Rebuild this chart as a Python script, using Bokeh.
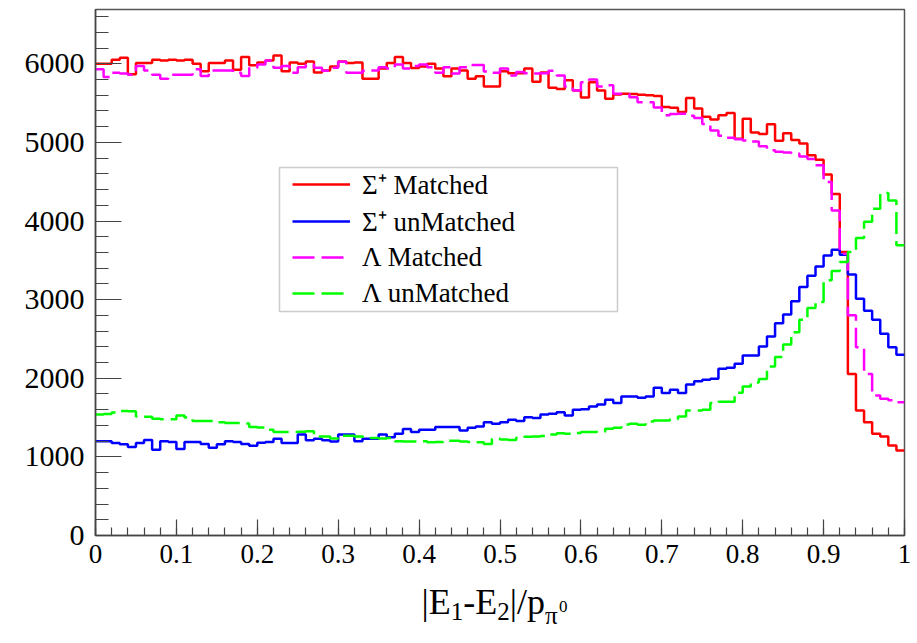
import numpy as np
from bokeh.plotting import figure
from bokeh.layouts import column
from bokeh.models import (Range1d, FixedTicker, CustomJSTickFormatter, Legend,
                          LegendItem, BoxAnnotation, Label)
from bokeh.embed import file_html
from bokeh.resources import INLINE

# ---------------- data (100 bins on [0, 1]) ----------------
n_bins = 100
x_lo, x_hi = 0.0, 1.0
y_max = 6690

sigma_matched = [
    6000, 6000, 6050, 6075, 5865, 6010, 6010, 6050, 6040, 6050,
    6040, 6050, 6000, 5905, 6010, 6010, 6040, 5925, 6085, 5980,
    6015, 6040, 6105, 5905, 6015, 6000, 6030, 5890, 5915, 5965,
    6030, 6010, 6015, 5810, 5810, 5940, 6010, 6085, 6010, 5945,
    5965, 6000, 5940, 5840, 5940, 5915, 5810, 5840, 5710, 5710,
    5905, 5880, 5880, 5940, 5770, 5890, 5695, 5680, 5790, 5660,
    5570, 5765, 5660, 5555, 5610, 5620, 5615, 5605, 5600, 5590,
    5450, 5440, 5385, 5565, 5430, 5325, 5290, 5345, 5375, 5045,
    5300, 5125, 5105, 5230, 5020, 5115, 5030, 4985, 4835, 4780,
    4590, 4345, 3605, 2055, 1590, 1440, 1295, 1260, 1145, 1080,
]
sigma_unmatched = [
    1200, 1200, 1175, 1160, 1125, 1175, 1215, 1090, 1200, 1190,
    1100, 1190, 1190, 1165, 1115, 1160, 1200, 1190, 1165, 1140,
    1180, 1190, 1230, 1175, 1175, 1285, 1210, 1230, 1210, 1195,
    1285, 1285, 1200, 1230, 1230, 1285, 1250, 1295, 1355, 1315,
    1345, 1345, 1380, 1380, 1380, 1335, 1370, 1385, 1440, 1420,
    1440, 1472, 1455, 1505, 1493, 1540, 1548, 1569, 1527, 1599,
    1607, 1641, 1667, 1726, 1684, 1768, 1768, 1752, 1768, 1878,
    1811, 1853, 1811, 1921, 1963, 1980, 1995, 2120, 2135, 2185,
    2290, 2290, 2405, 2530, 2700, 2810, 2980, 3160, 3305, 3420,
    3560, 3635, 3570, 3320, 3010, 2860, 2745, 2565, 2395, 2300,
]
lambda_matched = [
    5930, 5830, 5885, 5875, 5860, 5970, 5915, 5860, 5810, 5860,
    5860, 5860, 5930, 5845, 5915, 5915, 5915, 5885, 5845, 5950,
    5990, 6040, 5950, 5970, 5885, 5955, 5990, 5950, 5910, 5950,
    6025, 5885, 5885, 5910, 5915, 5955, 5940, 5990, 5940, 5970,
    5990, 5955, 5885, 5955, 5875, 5955, 5985, 5985, 5900, 5885,
    5940, 5850, 5895, 5880, 5875, 5880, 5910, 5850, 5710, 5660,
    5765, 5800, 5710, 5725, 5620, 5615, 5575, 5510, 5510, 5445,
    5345, 5360, 5365, 5340, 5310, 5235, 5150, 5085, 5060, 5040,
    5025, 5010, 4950, 4900, 4880, 4870, 4860, 4820, 4790, 4710,
    4495, 4135, 3585, 2800, 2395, 2055, 1780, 1740, 1720, 1695,
]
lambda_unmatched = [
    1540, 1545, 1565, 1585, 1580, 1515, 1510, 1485, 1480, 1480,
    1525, 1500, 1455, 1455, 1455, 1440, 1430, 1430, 1425, 1380,
    1375, 1345, 1315, 1315, 1315, 1320, 1325, 1260, 1260, 1235,
    1270, 1270, 1260, 1255, 1240, 1235, 1240, 1200, 1195, 1195,
    1200, 1185, 1190, 1205, 1205, 1195, 1190, 1185, 1165, 1230,
    1220, 1215, 1243, 1255, 1260, 1265, 1285, 1300, 1295, 1305,
    1315, 1315, 1320, 1357, 1370, 1412, 1421, 1410, 1450, 1463,
    1463, 1480, 1515, 1590, 1590, 1600, 1685, 1700, 1700, 1815,
    1895, 1945, 1990, 2150, 2270, 2430, 2585, 2745, 2895, 2970,
    3245, 3365, 3480, 3605, 3785, 3990, 4155, 4355, 4260, 3690,
]

series_labels = ["\u03a3\u207a Matched", "\u03a3\u207a unMatched",
                 "\u039b Matched", "\u039b unMatched"]
x_tick_values = [round(0.1 * i, 1) for i in range(11)]
x_minor_values = [round(0.02 * i, 2) for i in range(51)]
y_tick_values = [0, 1000, 2000, 3000, 4000, 5000, 6000]
y_minor_values = list(range(0, 6601, 200))

# ---------------- main figure ----------------
FONT = "Liberation Serif"
p = figure(width=917, height=580, output_backend="svg", toolbar_location=None,
           title=None,
           x_range=Range1d(x_lo, x_hi), y_range=Range1d(0, y_max),
           min_border_left=95, min_border_right=13,
           min_border_top=9, min_border_bottom=45)
p.background_fill_color = "white"
p.border_fill_color = "white"
p.outline_line_color = "#555555"
p.outline_line_width = 1.5
p.xgrid.visible = False
p.ygrid.visible = False

edges = np.linspace(x_lo, x_hi, n_bins + 1)


def stepped(vals):
    return list(vals) + [vals[-1]]


styles = [
    (sigma_matched, "#ff0000", "solid"),
    (sigma_unmatched, "#0000ff", "solid"),
    (lambda_matched, "#ff00ff", "22 7"),
    (lambda_unmatched, "#00ff00", "22 7"),
]
renderers = []
for vals, col, dash in styles:
    r = p.step(edges, stepped(vals), mode="after", line_color=col,
               line_width=2.5, line_dash=dash)
    renderers.append(r)

# axes
xa = p.xaxis[0]
xa.ticker = FixedTicker(ticks=x_tick_values, minor_ticks=x_minor_values)
xa.formatter = CustomJSTickFormatter(
    code="var s = tick.toFixed(1); return s.replace(/\\.0$/, '');")
xa.major_tick_in = 16
xa.major_tick_out = 0
xa.minor_tick_in = 8
xa.minor_tick_out = 0
xa.major_label_standoff = 9
xa.major_label_text_font = FONT
xa.major_label_text_font_size = "27px"
xa.major_label_text_color = "black"

ya = p.yaxis[0]
ya.ticker = FixedTicker(ticks=y_tick_values, minor_ticks=y_minor_values)
ya.major_tick_in = 26
ya.major_tick_out = 0
ya.minor_tick_in = 13
ya.minor_tick_out = 0
ya.major_label_standoff = 11
ya.major_label_text_font = FONT
ya.major_label_text_font_size = "30px"
ya.major_label_text_color = "black"

for ax in (xa, ya):
    ax.axis_line_color = "#444444"
    ax.axis_line_width = 1.5
    ax.major_tick_line_color = "#444444"
    ax.minor_tick_line_color = "#444444"
    ax.major_tick_line_width = 1.2
    ax.minor_tick_line_width = 1.2

# legend (border drawn separately so inner offsets can match)
box = BoxAnnotation(left=184, right=522, bottom=224, top=368,
                    left_units="screen", right_units="screen",
                    bottom_units="screen", top_units="screen",
                    fill_alpha=0, line_color="#555555", line_width=1.5)
p.add_layout(box)

legend = Legend(items=[LegendItem(label=lab, renderers=[r])
                       for lab, r in zip(series_labels, renderers)],
                location=(197, 224), padding=0, margin=0, spacing=0,
                glyph_width=58, glyph_height=36, label_height=36,
                label_width=230, label_standoff=12,
                border_line_alpha=0, background_fill_alpha=0,
                label_text_font=FONT, label_text_font_size="27px",
                label_text_color="black")
p.add_layout(legend)

# ---------------- x axis title strip: |E1-E2|/p_{pi^0} ----------------
t = figure(width=917, height=48, output_backend="svg", toolbar_location=None,
           title=None,
           x_range=Range1d(0, 1), y_range=Range1d(0, 1),
           min_border_left=0, min_border_right=0,
           min_border_top=0, min_border_bottom=0)
t.axis.visible = False
t.grid.visible = False
t.outline_line_color = None
t.background_fill_color = "white"
t.border_fill_color = "white"

F_MAIN, F_SUB, F_SUP = 36, 25, 17
pieces = [
    ("|E", F_MAIN, 27, 0.811),
    ("1", F_SUB, 17, 0.5),
    ("-E", F_MAIN, 27, 0.944),
    ("2", F_SUB, 17, 0.5),
    ("|/p", F_MAIN, 27, 0.978),
    ("\u03c0", F_SUB, 13, 0.56),
    ("0", F_SUP, 22, 0.5),
]
cx = 326
for txt, fs, by, w in pieces:
    t.add_layout(Label(x=cx, y=by, x_units="screen", y_units="screen",
                       text=txt, text_font=FONT, text_font_size=f"{fs}px",
                       text_baseline="alphabetic", text_align="left",
                       text_color="black"))
    cx += w * fs

layout = column(p, t, spacing=0)
open("out.html", "w").write(file_html(layout, INLINE))
